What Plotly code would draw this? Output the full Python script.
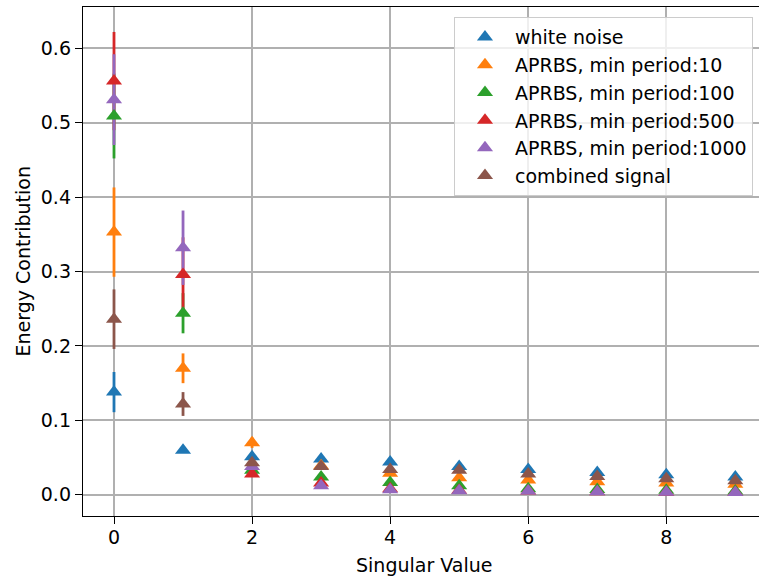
import plotly.graph_objects as go

# ---- data ----
singular_idx = [0, 1, 2, 3, 4, 5, 6, 7, 8, 9]

series_names = [
    "white noise",
    "APRBS, min period:10",
    "APRBS, min period:100",
    "APRBS, min period:500",
    "APRBS, min period:1000",
    "combined signal",
]
series_colors = ["#1f77b4", "#ff7f0e", "#2ca02c", "#d62728", "#9467bd", "#8c564b"]

white_noise = [0.138, 0.060, 0.051, 0.048, 0.044, 0.038, 0.034, 0.030, 0.027, 0.024]
white_noise_err = [0.027, 0.003, 0.002, 0.002, 0.002, 0.001, 0.001, 0.001, 0.001, 0.001]

aprbs_10 = [0.353, 0.170, 0.070, 0.039, 0.029, 0.023, 0.020, 0.0175, 0.0157, 0.014]
aprbs_10_err = [0.060, 0.020, 0.007, 0.003, 0.002, 0.002, 0.001, 0.001, 0.001, 0.001]

aprbs_100 = [0.509, 0.244, 0.033, 0.024, 0.0165, 0.012, 0.008, 0.007, 0.006, 0.005]
aprbs_100_err = [0.057, 0.027, 0.004, 0.003, 0.002, 0.001, 0.001, 0.001, 0.001, 0.001]

aprbs_500 = [0.556, 0.296, 0.028, 0.016, 0.008, 0.006, 0.005, 0.004, 0.0035, 0.003]
aprbs_500_err = [0.066, 0.050, 0.004, 0.003, 0.002, 0.001, 0.001, 0.001, 0.001, 0.001]

aprbs_1000 = [0.531, 0.332, 0.038, 0.012, 0.0067, 0.0054, 0.005, 0.004, 0.0035, 0.003]
aprbs_1000_err = [0.061, 0.050, 0.004, 0.003, 0.002, 0.001, 0.001, 0.001, 0.001, 0.001]

combined = [0.236, 0.122, 0.043, 0.038, 0.034, 0.033, 0.028, 0.0245, 0.0215, 0.019]
combined_err = [0.040, 0.016, 0.003, 0.002, 0.002, 0.001, 0.001, 0.001, 0.001, 0.001]

series_values = [white_noise, aprbs_10, aprbs_100, aprbs_500, aprbs_1000, combined]
series_errors = [white_noise_err, aprbs_10_err, aprbs_100_err, aprbs_500_err,
                 aprbs_1000_err, combined_err]

x_ticks = [0, 2, 4, 6, 8]
y_ticks = [0.0, 0.1, 0.2, 0.3, 0.4, 0.5, 0.6]

FONT = "DejaVu Sans"
FS = 19

fig = go.Figure()

# error bars first (drawn beneath all markers, like matplotlib)
for name, col, vals, errs in zip(series_names, series_colors, series_values, series_errors):
    fig.add_trace(go.Scatter(
        x=singular_idx, y=vals, mode="markers",
        marker=dict(size=1, color="rgba(0,0,0,0)"),
        error_y=dict(type="data", array=errs, visible=True, color=col,
                     thickness=2.8, width=0),
        showlegend=False, hoverinfo="skip",
    ))

# markers on top
for name, col, vals in zip(series_names, series_colors, series_values):
    fig.add_trace(go.Scatter(
        x=singular_idx, y=vals, mode="markers", name=name,
        marker=dict(symbol="triangle-up", size=14, color=col,
                    line=dict(width=0)),
    ))

axis_common = dict(
    showgrid=True, gridcolor="#b0b0b0", gridwidth=1.5,
    zeroline=False, showline=True, linecolor="black", linewidth=1.4,
    ticks="outside", ticklen=7, tickwidth=1.4, tickcolor="black",
    tickfont=dict(family=FONT, size=FS, color="black"),
    automargin=False,
)

fig.update_xaxes(
    range=[-0.449, 9.343], tickvals=x_ticks, mirror=True,
    ticklabelstandoff=-3,
    **axis_common,
)
fig.update_yaxes(
    range=[-0.0285, 0.6555], tickvals=y_ticks, tickformat=".1f", mirror=False,
    **axis_common,
)

fig.add_annotation(
    text="Singular Value", xref="paper", yref="paper",
    x=0.505, y=-0.0963, xanchor="center", yanchor="middle",
    showarrow=False, font=dict(family=FONT, size=FS, color="black"),
)
fig.add_annotation(
    text="Energy Contribution", xref="paper", yref="paper",
    x=-0.0902, y=0.5, xanchor="center", yanchor="middle", textangle=-90,
    showarrow=False, font=dict(family=FONT, size=FS, color="black"),
)

fig.update_layout(
    width=759, height=579,
    margin=dict(l=83, r=0, t=7, b=63, autoexpand=False),
    plot_bgcolor="white", paper_bgcolor="white",
    font=dict(family=FONT, size=FS, color="black"),
    showlegend=True,
    legend=dict(
        x=0.5488, y=0.980, xanchor="left", yanchor="top",
        bgcolor="rgba(255,255,255,0.8)", bordercolor="#cccccc", borderwidth=1,
        font=dict(family=FONT, size=FS, color="black"),
        itemwidth=50,
    ),
)

fig.write_html(
    "out.html",
    config={"displayModeBar": False},
    post_script="document.body.style.margin='0px';document.body.style.overflow='hidden';",
)
